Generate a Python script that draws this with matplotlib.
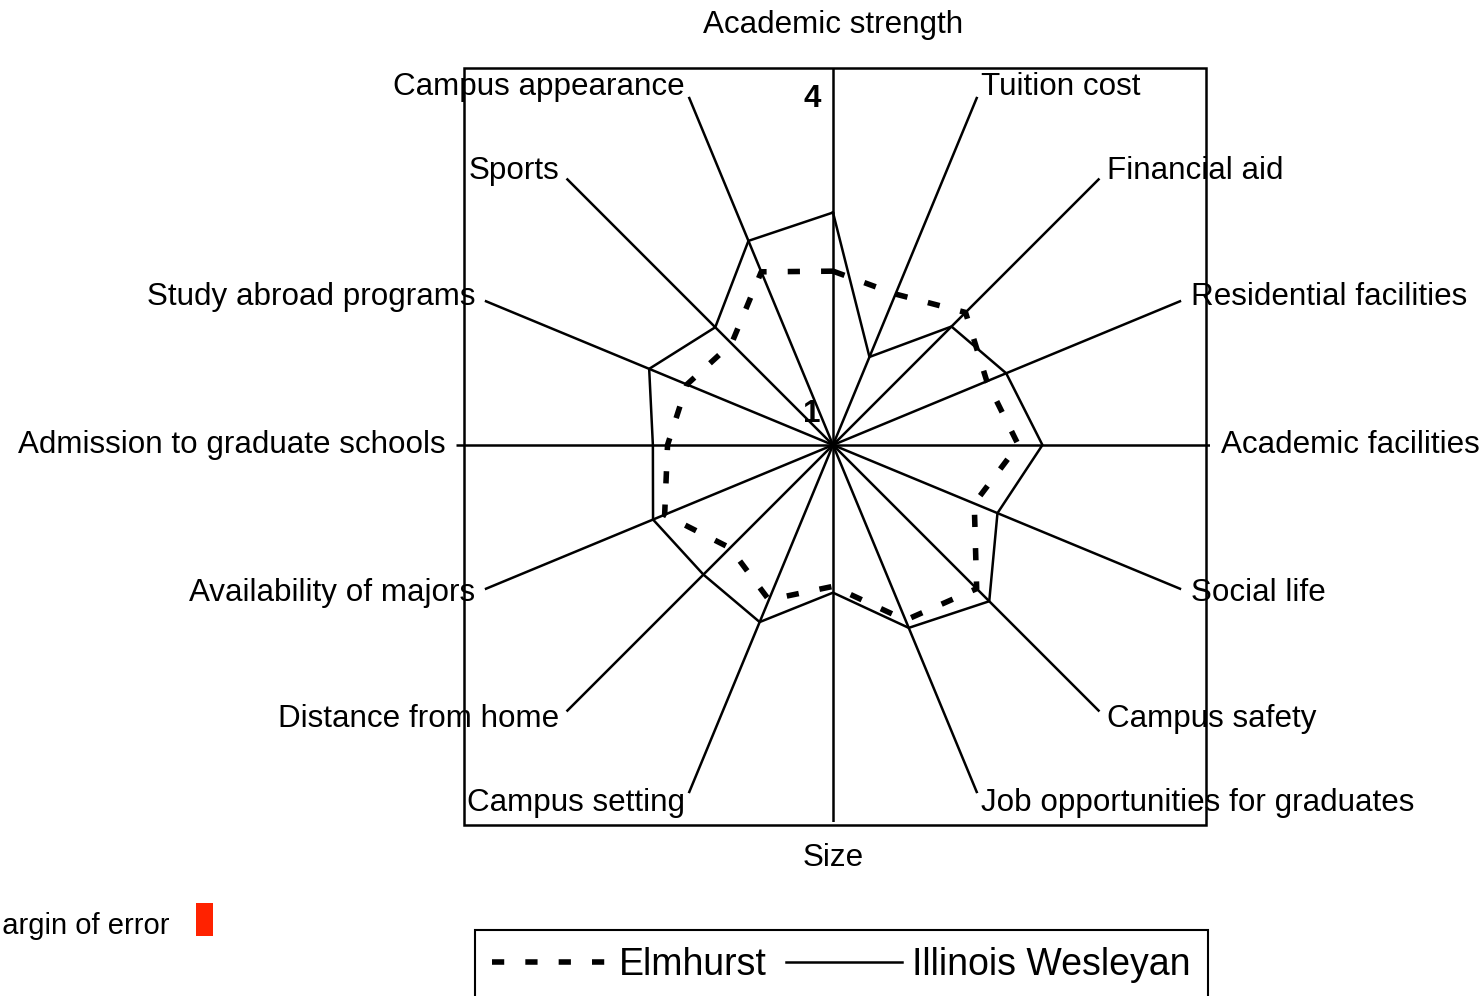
import matplotlib
matplotlib.use("Agg")
import matplotlib.pyplot as plt
import numpy as np
from matplotlib.patches import Rectangle

plt.rcParams['font.family'] = ['Liberation Sans', 'DejaVu Sans']

# axes of the radar, clockwise from the top
categories = ["Academic strength", "Tuition cost", "Financial aid", "Residential facilities",
              "Academic facilities", "Social life", "Campus safety", "Job opportunities for graduates",
              "Size", "Campus setting", "Distance from home", "Availability of majors",
              "Admission to graduate schools", "Study abroad programs", "Sports", "Campus appearance"]

# ratings
illinois_wesleyan = [2.92, 1.61, 2.30, 2.49, 2.70, 2.40, 2.81, 2.59,
                     2.11, 2.53, 2.45, 2.56, 2.42, 2.60, 2.29, 2.81]
elmhurst = [2.36, 2.26, 2.49, 2.29, 2.47, 2.16, 2.64, 2.51,
            2.05, 2.30, 2.09, 2.44, 2.28, 2.21, 2.07, 2.49]

scale_labels = [1, 4]
rmin, rmax = 0.7, 4.3

W, H = 1483, 996
fig = plt.figure(figsize=(W / 100, H / 100), dpi=100)

# centre of the radar at (833, 445) px, radius 377 px
cx, cy, R = 833, 445, 377
ax = fig.add_axes([(cx - R) / W, (H - cy - R) / H, 2 * R / W, 2 * R / H], projection='polar')
ax.set_theta_zero_location('N')
ax.set_theta_direction(-1)
ax.set_ylim(rmin, rmax)
ax.set_xticks([])
ax.set_yticks([])
ax.grid(False)
ax.spines['polar'].set_visible(False)
ax.set_facecolor('none')

# square frame round the radar
fig.patches.append(Rectangle((464 / W, (H - 825) / H), 742 / W, 757 / H, transform=fig.transFigure,
                             fill=False, edgecolor='black', linewidth=1.8))

n = len(categories)
theta = np.arange(n) * 2 * np.pi / n

for t in theta:
    ax.plot([t, t], [rmin, rmax], color='black', lw=1.8, solid_capstyle='butt')

tc = np.append(theta, theta[0])
ax.plot(tc, np.append(illinois_wesleyan, illinois_wesleyan[0]), color='black', lw=1.8,
        label='Illinois Wesleyan')
ax.plot(tc, np.append(elmhurst, elmhurst[0]), color='black', lw=4,
        linestyle=(0, (2.2, 3.8)), dash_capstyle='butt', label='Elmhurst')

# category labels
fs = 22.6
px = (rmax - rmin) / R
for i, (t, name) in enumerate(zip(theta, categories)):
    if i == 0:
        ax.text(t, rmin + 420 * px, name, ha='center', va='center', fontsize=fs)
    elif i == n // 2:
        ax.text(t, rmin + 413 * px, name, ha='center', va='center', fontsize=fs)
    elif i < n // 2:
        ax.text(t, rmin + 388 * px, name, ha='left', va='center', fontsize=fs)
    else:
        ax.text(t, rmin + 387 * px, name, ha='right', va='center', fontsize=fs)

for v in scale_labels:
    ax.annotate(str(v), xy=(0, v), xytext=(-9, 0), textcoords='offset points',
                ha='right', va='center', fontsize=fs, fontweight='bold')

# margin of error note (runs off the left edge, as in the original)
fig.text(170 / W, (H - 926) / H, "Margin of error", ha='right', va='center', fontsize=21)
fig.patches.append(Rectangle((196 / W, (H - 936) / H), 17 / W, 33 / H, transform=fig.transFigure,
                             facecolor='#FF2200', edgecolor='none'))

handles, labels = ax.get_legend_handles_labels()
leg = fig.legend(handles[::-1], labels[::-1], loc='upper center', bbox_to_anchor=(841.5 / W, (H - 930) / H),
                 ncol=2, fontsize=27, frameon=True, fancybox=False, framealpha=1,
                 handlelength=3.1, handletextpad=0.27, columnspacing=0.53, borderpad=0.45,
                 borderaxespad=0)
leg.get_frame().set_edgecolor('black')
leg.get_frame().set_linewidth(1.5)

fig.savefig('out.png', dpi=100)
